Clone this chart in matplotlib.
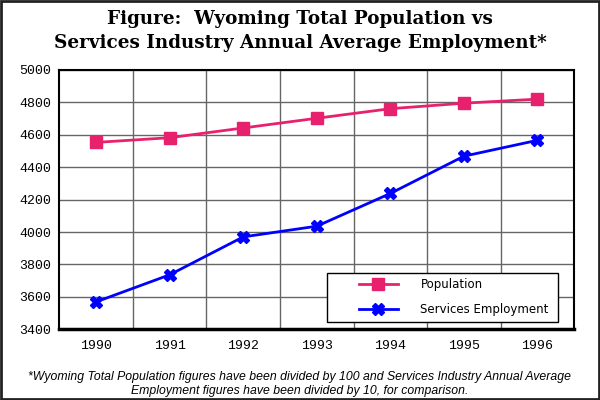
import matplotlib
matplotlib.use('Agg')
import matplotlib.pyplot as plt
from matplotlib.patches import Rectangle

years = ['1990', '1991', '1992', '1993', '1994', '1995', '1996']
population = [4553, 4582, 4642, 4702, 4761, 4795, 4820]
services = [3569, 3736, 3970, 4036, 4238, 4468, 4566]
yticks = [3400, 3600, 3800, 4000, 4200, 4400, 4600, 4800, 5000]

pink = '#e8216f'
blue = '#0000ff'

fig = plt.figure(figsize=(6, 4), dpi=100)
ax = fig.add_axes([0.0988, 0.1768, 0.8583, 0.6483])

x = list(range(len(years)))
ax.plot(x, population, color=pink, lw=2, marker='s', ms=9, mec=pink, mfc=pink,
        label='Population', zorder=3)
ax.plot(x, services, color=blue, lw=2, marker='X', ms=8.5, mec=blue, mfc=blue,
        label='Services Employment', zorder=3)

ax.set_xlim(-0.5, len(years) - 0.5)
ax.set_ylim(3400, 5000)
ax.set_yticks(yticks)
ax.set_xticks(x)
ax.set_xticklabels(years)
ax.set_xticks([i + 0.5 for i in range(len(years) - 1)], minor=True)
ax.grid(False)
ax.grid(True, which='minor', axis='x', color='#666666', lw=1)
ax.grid(True, which='major', axis='y', color='#666666', lw=1)
ax.set_axisbelow(True)
ax.tick_params(which='both', length=0)
ax.tick_params(axis='y', pad=6)
ax.tick_params(axis='x', pad=8)
for lab in ax.get_xticklabels() + ax.get_yticklabels():
    lab.set_fontfamily('Liberation Mono')
    lab.set_fontsize(9.5)

for s in ['left', 'top', 'right']:
    ax.spines[s].set_linewidth(1.5)
    ax.spines[s].set_color('black')
ax.spines['bottom'].set_linewidth(2.5)

# legend box drawn separately so its padding matches the original
ax.add_patch(Rectangle((0.5192, 0.027), 0.4486, 0.189, transform=ax.transAxes,
                       fill=True, facecolor='white', edgecolor='black', lw=1, zorder=4))
leg = ax.legend(loc='upper left', bbox_to_anchor=(0.582, 0.197), frameon=False,
                prop={'family': 'DejaVu Sans', 'size': 8.5},
                handlelength=3.3, handletextpad=1.9, labelspacing=1.0,
                borderpad=0, borderaxespad=0)
leg.set_zorder(5)

fig.text(0.5, 1 - 31 / 400,
         'Figure:  Wyoming Total Population vs\nServices Industry Annual Average Employment*',
         ha='center', va='center', fontsize=13.2, fontweight='bold',
         family='DejaVu Serif', linespacing=1.45)

fig.text(0.5, 1 - 384 / 400,
         '*Wyoming Total Population figures have been divided by 100 and Services Industry Annual Average\n'
         'Employment figures have been divided by 10, for comparison.',
         ha='center', va='center', fontsize=8.8, style='italic',
         family=['Liberation Sans Narrow', 'Liberation Sans'], linespacing=1.25)

fig.patches.append(Rectangle((0.002, 0.003), 0.996, 0.994, transform=fig.transFigure,
                             fill=False, edgecolor='#222222', lw=2))

fig.savefig('out.png', dpi=100)
